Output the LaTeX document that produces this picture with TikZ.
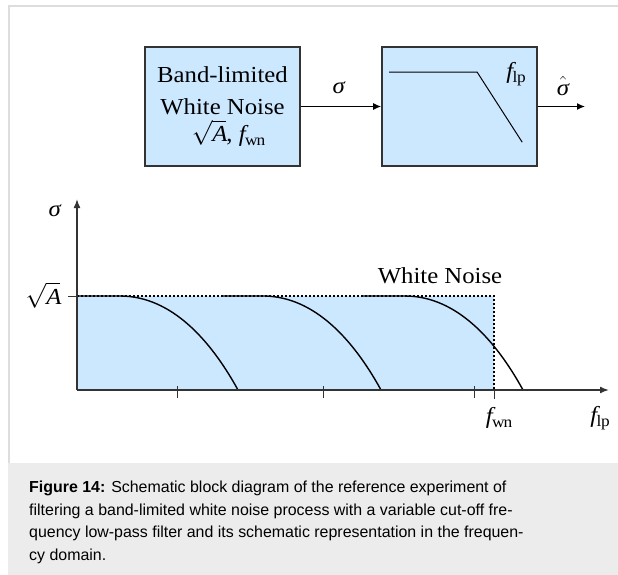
\documentclass[tikz,border=0pt]{standalone}
\usepackage{amsmath}
\usepackage{fontspec}
\setmainfont[FakeStretch=1.08]{Liberation Serif}
\newfontfamily\capfont{Liberation Sans}
\usepackage{tikz}
\usetikzlibrary{arrows.meta,positioning,calc}
\usepackage{xcolor}
\definecolor{bandfill}{RGB}{204,232,255}
\definecolor{axisgray}{RGB}{51,51,51}
\definecolor{framegray}{RGB}{221,221,221}
\definecolor{capgray}{RGB}{236,236,236}

\begin{document}
\begin{tikzpicture}[x=1bp,y=-1bp,
    block/.style={draw=axisgray,fill=bandfill,line width=1.6bp,minimum width=155bp,minimum height=119bp,inner sep=0pt},
    sig/.style={line width=1.3bp,-{Latex[length=8bp,width=7bp]}},
    axis/.style={draw=axisgray,line width=1.6bp,-{Latex[length=9bp,width=7bp]}},
    tick/.style={draw=axisgray,line width=1bp},
    rolloff/.style={line width=1.4bp},
    wnline/.style={line width=1.6bp,dash pattern=on 2bp off 2bp},
    lbl/.style={font=\fontsize{23}{32}\selectfont,inner sep=0pt}]
    \useasboundingbox (0,0) rectangle (618,575);
    % Frame and caption
    \draw[framegray,line width=1.5bp] (9,575) -- (9,6) -- (618,6);
    \fill[capgray] (8.25,463) rectangle (618,575);
    \node[anchor=north west,align=left,inner sep=0pt,font=\capfont\fontsize{16}{22.5}\selectfont] (caption) at (29,481)
        {\textbf{Figure 14:} Schematic block diagram of the reference experiment of\\
         filtering a band-limited white noise process with a variable cut-off fre-\\
         quency low-pass filter and its schematic representation in the frequen-\\
         cy domain.};
    % Blocks
    \node[block,lbl,align=center] (noise) at (222.5,106.5)
        {Band-limited\\White Noise\\[-4bp]\hspace*{12bp}$\sqrt{\mathit{A}}$, $\mathit{f}_{\mathrm{wn}}$};
    \node[block] (lowpass) at (459.5,106.5) {};
    \draw[line width=1bp] ($(lowpass.north west)+(8,26)$) -- ++(88,0) -- ++(45,70);
    \node[lbl] (flpbox) at (516,74) {$\mathit{f}_{\mathrm{lp}}$};
    \coordinate (sigout) at (585,106.5);
    \draw[sig] (noise.east) -- (lowpass.west);
    \draw[sig] (lowpass.east) -- (sigout);
    \node[lbl] (sigin) at (339,88) {\textit{σ}};
    \node[lbl] (sighat) at (563,86) {$\hat{\textit{σ}}$};
    % Spectrum
    \coordinate (orig) at (77,390);
    \coordinate (ytip) at (77,199);
    \coordinate (xtip) at (609,390);
    \coordinate (wntop) at (494,296);
    \fill[bandfill] (77,296) rectangle (494,390);
    \foreach \s in {0,143,285}
        \draw[rolloff] (78+\s,296) -- (120+\s,296) .. controls (165+\s,296) and (205+\s,330) .. (238+\s,390);
    \draw[wnline] (77,296) -- (wntop) -- (494,390);
    \draw[axis] (orig) -- (ytip);
    \draw[axis] (orig) -- (xtip);
    \foreach \t in {177,323,474}
        \draw[tick] (\t,386) -- (\t,398);
    \draw[tick] (494,390) -- (494,399);
    \draw[tick] (68,296) -- (77,296);
    \node[lbl] (sigax) at (55,211) {\textit{σ}};
    \node[lbl] (sqrtA) at (43,295) {$\sqrt{\mathit{A}}$};
    \node[lbl] (fwn) at (499,418) {$\mathit{f}_{\mathrm{wn}}$};
    \node[lbl] (flp) at (600,418) {$\mathit{f}_{\mathrm{lp}}$};
    \node[lbl] (wnlab) at (440,276) {White Noise};
\end{tikzpicture}
\end{document}
